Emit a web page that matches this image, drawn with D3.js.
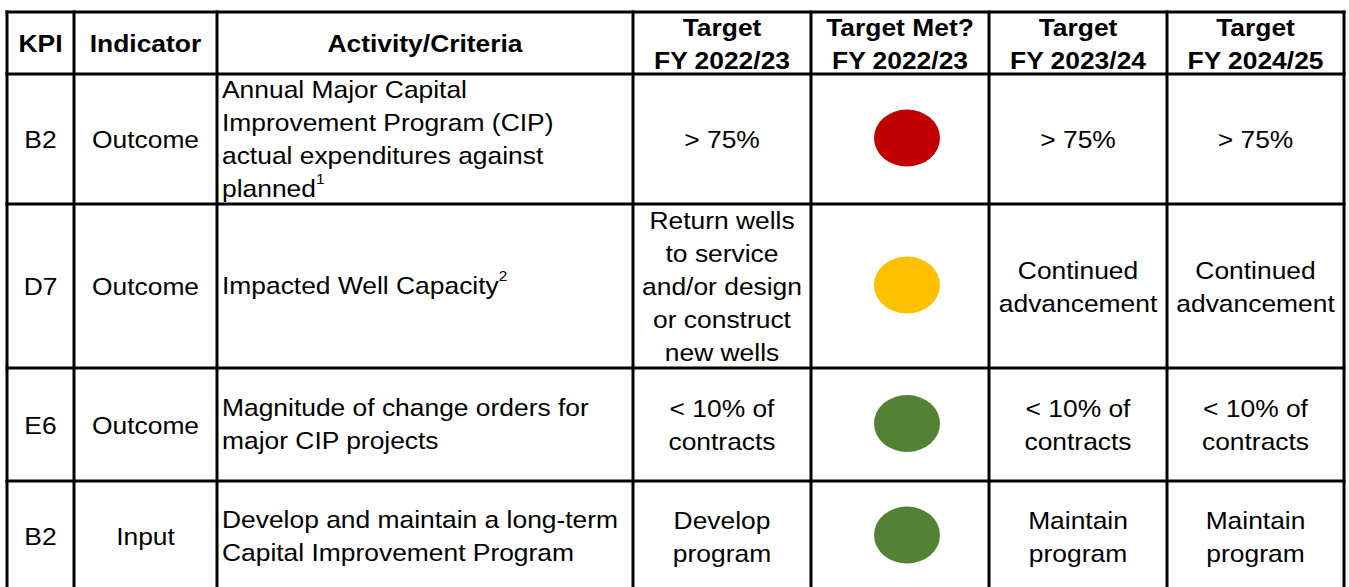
<!DOCTYPE html>
<html><head><meta charset="utf-8">
<script src="https://cdn.jsdelivr.net/npm/d3@7"></script>
<style>html,body{margin:0;padding:0;background:#fff;}svg{display:block;}</style>
</head><body>
<svg id="chart" width="1349" height="587"></svg>
<script>
// ---- data ----
const headers = [["KPI"], ["Indicator"], ["Activity/Criteria"], ["Target", "FY 2022/23"], ["Target Met?", "FY 2022/23"], ["Target", "FY 2023/24"], ["Target", "FY 2024/25"]];
const kpis = ["B2", "D7", "E6", "B2"];
const indicators = ["Outcome", "Outcome", "Outcome", "Input"];
const activities = [
  [["Annual Major Capital"], ["Improvement Program (CIP)"], ["actual expenditures against"], ["planned", "1"]],
  [["Impacted Well Capacity", "2"]],
  [["Magnitude of change orders for"], ["major CIP projects"]],
  [["Develop and maintain a long-term"], ["Capital Improvement Program"]]
];
const target2223 = [["> 75%"], ["Return wells", "to service", "and/or design", "or construct", "new wells"], ["< 10% of", "contracts"], ["Develop", "program"]];
const targetMet = ["red", "yellow", "green", "green"];
const target2324 = [["> 75%"], ["Continued", "advancement"], ["< 10% of", "contracts"], ["Maintain", "program"]];
const target2425 = [["> 75%"], ["Continued", "advancement"], ["< 10% of", "contracts"], ["Maintain", "program"]];

// ---- layout ----
const colEdges = [7, 74, 217, 633, 811, 989, 1167, 1344];
const rowEdges = [12, 74, 204, 368, 481, 591];
const lineH = 33, fs = 24, sx = 1.1;
const statusColor = d3.scaleOrdinal().domain(["red", "yellow", "green"]).range(["#C00000", "#FFC000", "#548235"]);

const svg = d3.select("#chart");
const font = "'Liberation Sans', Arial, sans-serif";

// row/col helpers
const colX = i => colEdges[i], colW = i => colEdges[i + 1] - colEdges[i];
const rowY = i => rowEdges[i], rowH = i => rowEdges[i + 1] - rowEdges[i];
const rowC = i => (rowEdges[i] + rowEdges[i + 1]) / 2;
const colC = i => (colEdges[i] + colEdges[i + 1]) / 2;

function textBlock(lines, ci, ri, opts = {}) {
  const n = lines.length;
  const cy = rowC(ri);
  const first = cy - (n - 1) * lineH / 2 + (opts.off || 9);
  lines.forEach((ln, k) => {
    const parts = Array.isArray(ln) ? ln : [ln];
    const x = opts.left ? colX(ci) + 5 : colC(ci);
    const y = first + k * lineH;
    const t = svg.append("text")
      .attr("transform", `translate(${x},${y}) scale(${sx},1)`)
      .attr("text-anchor", opts.left ? "start" : "middle")
      .attr("font-family", font)
      .attr("font-size", fs)
      .attr("font-weight", opts.bold ? "bold" : "normal")
      .attr("fill", "#000");
    t.append("tspan").text(parts[0]);
    if (parts[1]) {
      t.append("tspan").attr("font-size", 14).attr("dy", -13).text(parts[1]);
    }
  });
}

// header
headers.forEach((h, ci) => textBlock(h, ci, 0, { bold: true, off: 9 }));

// body
kpis.forEach((d, ri) => {
  const r = ri + 1;
  textBlock([d], 0, r);
  textBlock([indicators[ri]], 1, r);
  textBlock(activities[ri], 2, r, { left: true, off: 8 });
  textBlock(target2223[ri], 3, r);
  svg.append("ellipse")
    .attr("cx", colC(4) + 7).attr("cy", rowC(r) - 1)
    .attr("rx", 33).attr("ry", 28.5)
    .attr("fill", statusColor(targetMet[ri]));
  textBlock(target2324[ri], 5, r);
  textBlock(target2425[ri], 6, r);
});

// grid lines
const g = svg.append("g").attr("stroke", "#000").attr("stroke-width", 3);
colEdges.forEach(x => g.append("line").attr("x1", x).attr("x2", x).attr("y1", rowEdges[0] - 1.5).attr("y2", 600));
rowEdges.slice(0, -1).forEach(y => g.append("line").attr("x1", colEdges[0] - 1.5).attr("x2", colEdges[colEdges.length - 1] + 1.5).attr("y1", y).attr("y2", y));
</script>
</body></html>
